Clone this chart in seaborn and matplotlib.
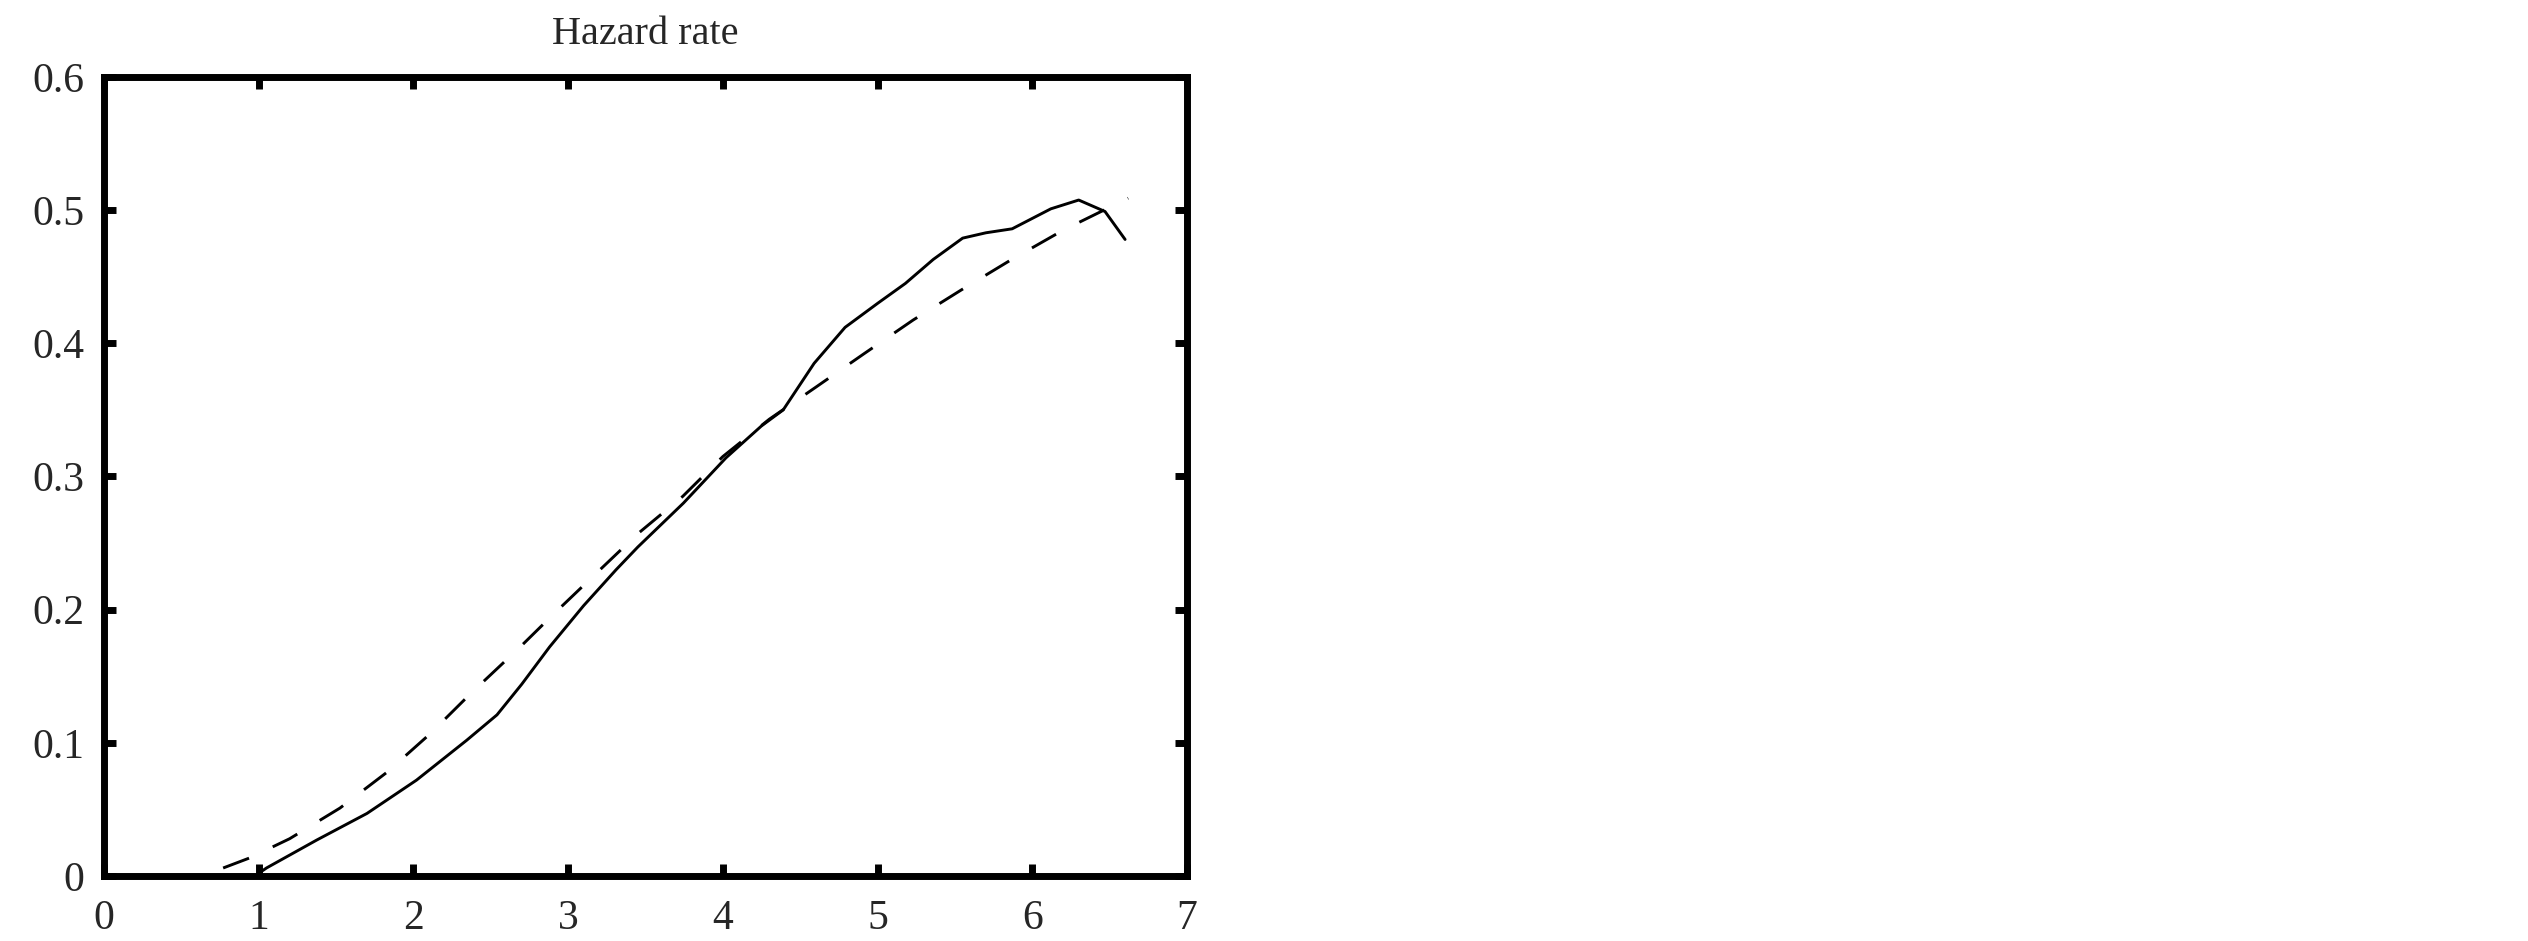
import matplotlib
matplotlib.use("Agg")
import matplotlib.pyplot as plt
import seaborn as sns
import pandas as pd

# ---- data ----
solid_x = [1.0, 1.05, 1.375, 1.70, 2.02, 2.345, 2.54, 2.70, 2.88, 3.10, 3.31,
           3.45, 3.745, 4.02, 4.25, 4.39, 4.59, 4.79, 5.0, 5.18, 5.36, 5.55,
           5.70, 5.87, 6.12, 6.30, 6.47, 6.60]
solid_y = [0.002, 0.006, 0.027, 0.047, 0.072, 0.102, 0.121, 0.144, 0.172, 0.203,
           0.230, 0.247, 0.280, 0.314, 0.338, 0.350, 0.385, 0.412, 0.430, 0.445,
           0.463, 0.479, 0.483, 0.486, 0.501, 0.5076, 0.499, 0.478]

dashed_x = [0.77, 0.94, 1.20, 1.525, 1.83, 2.11, 2.37, 2.69, 2.90, 3.17, 3.45,
            3.74, 4.00, 4.30, 4.60, 4.91, 5.23, 5.54, 5.86, 6.20, 6.62]
dashed_y = [0.006, 0.0135, 0.028, 0.051, 0.078, 0.107, 0.137, 0.172, 0.196,
            0.226, 0.257, 0.285, 0.315, 0.343, 0.367, 0.392, 0.4175, 0.44,
            0.4625, 0.485, 0.509]

x_ticks = [0, 1, 2, 3, 4, 5, 6, 7]
x_tick_labels = ["0", "1", "2", "3", "4", "5", "6", "7"]
y_ticks = [0, 0.1, 0.2, 0.3, 0.4, 0.5, 0.6]
y_tick_labels = ["0", "0.1", "0.2", "0.3", "0.4", "0.5", "0.6"]
title = "Hazard rate"

# ---- style ----
sns.set_style("ticks")
plt.rcParams["font.family"] = ["Liberation Serif", "DejaVu Serif"]
plt.rcParams["font.size"] = 30

fig = plt.figure(figsize=(25.28, 9.41), dpi=100, facecolor="white")
ax = fig.add_axes([0.04114, 0.06908, 0.4284, 0.8491])

df_solid = pd.DataFrame({"x": solid_x, "y": solid_y})
df_dash = pd.DataFrame({"x": dashed_x, "y": dashed_y})

sns.lineplot(data=df_solid, x="x", y="y", ax=ax, color="black", linewidth=2.1,
             estimator=None, sort=False)
sns.lineplot(data=df_dash, x="x", y="y", ax=ax, color="black", linewidth=2.1,
             estimator=None, sort=False)
ax.lines[-1].set_dashes((9.5, 9))

ax.set_xlim(0, 7)
ax.set_ylim(0, 0.6)
ax.set_xticks(x_ticks)
ax.set_xticklabels(x_tick_labels)
ax.set_yticks(y_ticks)
ax.set_yticklabels(y_tick_labels)
ax.set_xlabel("")
ax.set_ylabel("")

for s in ax.spines.values():
    s.set_visible(True)
    s.set_linewidth(5)
    s.set_color("black")

ax.tick_params(axis="both", which="major", direction="in", length=8.5,
               width=5, color="black", labelsize=30, top=True, right=True)
ax.tick_params(axis="x", pad=17)
ax.tick_params(axis="y", pad=14)

ax.set_title(title, fontsize=29, pad=24)

fig.savefig("out.png", dpi=100, facecolor="white")
